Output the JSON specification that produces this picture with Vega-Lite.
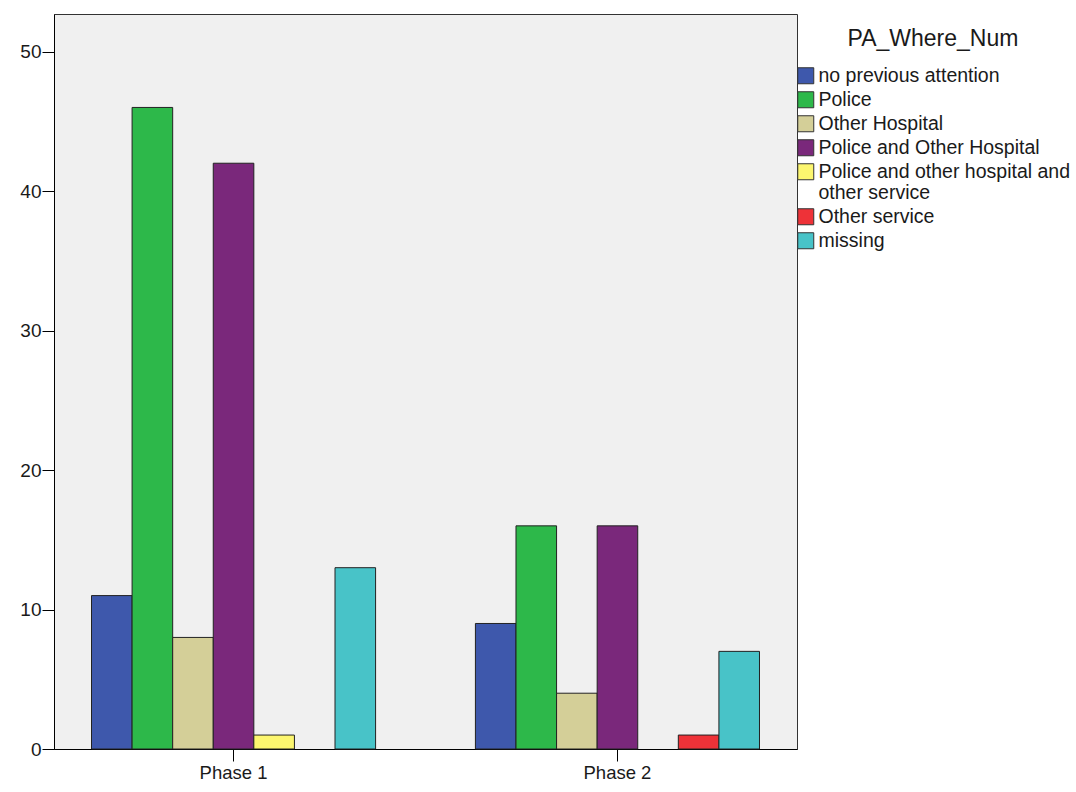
{
  "$schema": "https://vega.github.io/schema/vega-lite/v6.json",
  "width": 743,
  "height": 735,
  "autosize": {"type": "none"},
  "padding": {"left": 54, "top": 14, "right": 279, "bottom": 43},
  "background": "white",
  "data": {
    "values": [
      {"phase": "Phase 1", "cat": "no previous attention", "count": 11},
      {"phase": "Phase 1", "cat": "Police", "count": 46},
      {"phase": "Phase 1", "cat": "Other Hospital", "count": 8},
      {"phase": "Phase 1", "cat": "Police and Other Hospital", "count": 42},
      {"phase": "Phase 1", "cat": "Police and other hospital and other service", "count": 1},
      {"phase": "Phase 1", "cat": "missing", "count": 13},
      {"phase": "Phase 2", "cat": "no previous attention", "count": 9},
      {"phase": "Phase 2", "cat": "Police", "count": 16},
      {"phase": "Phase 2", "cat": "Other Hospital", "count": 4},
      {"phase": "Phase 2", "cat": "Police and Other Hospital", "count": 16},
      {"phase": "Phase 2", "cat": "Other service", "count": 1},
      {"phase": "Phase 2", "cat": "missing", "count": 7}
    ]
  },
  "mark": {"type": "bar", "stroke": "#222222", "strokeWidth": 1},
  "encoding": {
    "x": {
      "field": "phase",
      "type": "nominal",
      "scale": {"paddingInner": 0.26, "paddingOuter": 0.0977},
      "axis": {
        "title": null,
        "labelAngle": 0,
        "tickSize": 12,
        "labelPadding": 2,
        "labelFont": "Liberation Sans",
        "labelFontSize": 18.5,
        "labelColor": "#1a1a1a",
        "domainColor": "#000000",
        "tickColor": "#000000"
      }
    },
    "xOffset": {
      "field": "cat",
      "type": "nominal",
      "scale": {
        "domain": ["no previous attention", "Police", "Other Hospital", "Police and Other Hospital", "Police and other hospital and other service", "Other service", "missing"],
        "paddingInner": 0,
        "paddingOuter": 0
      }
    },
    "y": {
      "field": "count",
      "type": "quantitative",
      "scale": {"domain": [0, 52.7], "nice": false},
      "axis": {
        "title": null,
        "grid": false,
        "values": [0, 10, 20, 30, 40, 50],
        "tickSize": 12,
        "labelPadding": 1,
        "labelFont": "Liberation Sans",
        "labelFontSize": 19,
        "labelColor": "#1a1a1a",
        "domainColor": "#000000",
        "tickColor": "#000000"
      }
    },
    "color": {
      "field": "cat",
      "type": "nominal",
      "scale": {
        "domain": ["no previous attention", "Police", "Other Hospital", "Police and Other Hospital", "Police and other hospital and other service", "Other service", "missing"],
        "range": ["#3e58ac", "#2db84a", "#d4cf98", "#7a287b", "#fcf66f", "#ee3238", "#48c3c8"]
      },
      "legend": {
        "orient": "none",
        "legendX": 742,
        "legendY": 14,
        "title": "PA_Where_Num",
        "titleFont": "Liberation Sans",
        "titleFontSize": 23,
        "titleFontWeight": "normal",
        "titleColor": "#1a1a1a",
        "titleAnchor": "middle",
        "titlePadding": 15,
        "symbolType": "square",
        "symbolSize": 256,
        "symbolStrokeColor": "#333333",
        "symbolStrokeWidth": 1,
        "labelFont": "Liberation Sans",
        "labelFontSize": 19.5,
        "labelColor": "#1a1a1a",
        "labelOffset": 3,
        "labelLimit": 400,
        "rowPadding": 3,
        "padding": 0,
        "labelExpr": "datum.label == 'Police and other hospital and other service' ? ['Police and other hospital and', 'other service'] : datum.label"
      }
    }
  },
  "config": {
    "view": {"fill": "#f0f0f0", "stroke": "#333333", "strokeWidth": 1}
  }
}
